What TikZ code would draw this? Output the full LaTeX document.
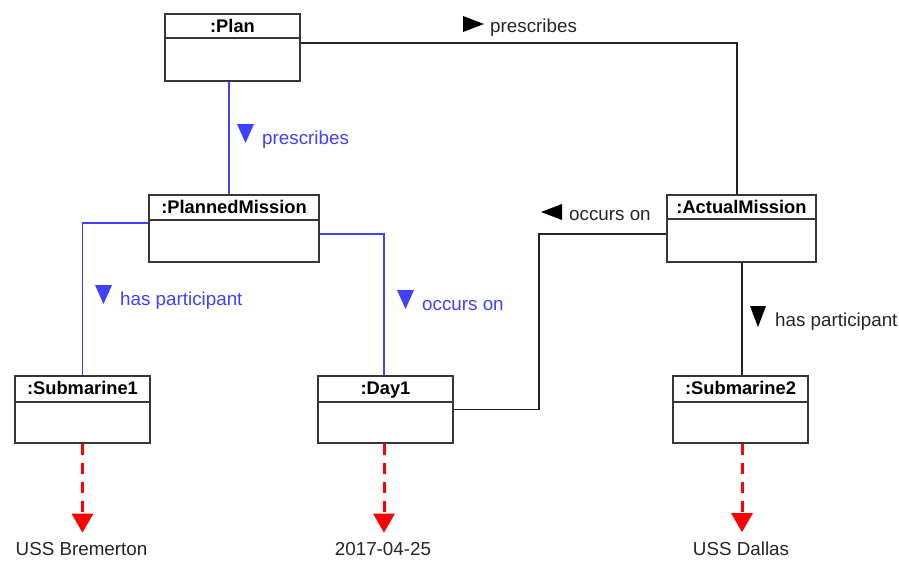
\documentclass[tikz,border=0pt]{standalone}
\usepackage{fontspec}
\setmainfont{Liberation Sans}
\usetikzlibrary{arrows.meta,calc}
\definecolor{umlblue}{RGB}{64,64,255}
\definecolor{boxgray}{RGB}{55,55,55}
\definecolor{lineblack}{RGB}{35,35,35}
\tikzset{
  objbox/.style={draw=boxgray, line width=2pt, fill=white, anchor=north west, inner sep=0pt},
  objtitle/.style={font=\fontsize{18.3}{20}\selectfont\bfseries, anchor=base, inner sep=0pt},
  lbl/.style={font=\fontsize{18.8}{20}\selectfont, anchor=base west, inner sep=0pt},
  blueline/.style={draw=umlblue, line width=1.5pt},
  blackline/.style={draw=lineblack, line width=1.5pt},
  reddash/.style={draw=red, line width=3pt, dash pattern=on 11pt off 8pt, -{Triangle[width=21pt,length=19pt]}, shorten >=8pt},
  valtext/.style={font=\fontsize{18.8}{20}\selectfont, text=black!85, anchor=base, inner sep=1pt},
}
\newcommand{\umlobject}[7]{%
  \node[objbox, minimum width=#4, minimum height=#5] (#1) at (#2,#3) {};
  \node[objtitle] (#1t) at ($(#1.north)+(0,19.5)$) {#6};
  \draw[boxgray, line width=2pt] ($(#1.north west)+(0,#7)$) -- ($(#1.north east)+(0,#7)$);
}
\begin{document}
\begin{tikzpicture}[x=1pt,y=-1pt]
\useasboundingbox[fill=white] (0,0) rectangle (899,560);

% objects
\umlobject{plan}{164}{13}{135pt}{67pt}{:Plan}{25}
\umlobject{pm}{148}{194}{170pt}{67pt}{:PlannedMission}{26}
\umlobject{am}{666}{194}{149pt}{67pt}{:ActualMission}{25}
\umlobject{sub1}{14}{375}{135pt}{67pt}{:Submarine1}{27}
\umlobject{day1}{317}{375}{135pt}{67pt}{:Day1}{27}
\umlobject{sub2}{672}{375}{135pt}{67pt}{:Submarine2}{27}

% blue links
\draw[blueline] ([xshift=-3.5pt]plan.south) -- ([xshift=-5pt]pm.north);
\draw[blueline] ([yshift=5.5pt]pm.west) -| (sub1.north);
\draw[blueline] ([yshift=-5.5pt]pm.east) -| ([xshift=-1.5pt]day1.north);

% black links
\draw[blackline] ([yshift=4.5pt]plan.east) -| ([xshift=-4.5pt]am.north);
\draw[blackline] ([yshift=-5.5pt]am.west) -| ([xshift=85pt]day1.east) -- (day1.east);
\draw[blackline] ([xshift=1.5pt]sub2.north |- am.south) -- ([xshift=1.5pt]sub2.north);

% blue labels
\fill[umlblue] (237,124) -- (254,124) -- (245.5,143) -- cycle;
\node[lbl, text=umlblue] (l1) at (262,144) {prescribes};
\fill[umlblue] (95,285) -- (112,285) -- (103.5,304) -- cycle;
\node[lbl, text=umlblue] (l2) at (120,305) {has participant};
\fill[umlblue] (397,290) -- (414,290) -- (405.5,309) -- cycle;
\node[lbl, text=umlblue] (l3) at (422,310) {occurs on};

% black labels
\fill[black] (463,16) -- (463,32) -- (484,24) -- cycle;
\node[lbl, text=black!85] (l4) at (490,32) {prescribes};
\fill[black] (562,204) -- (562,220) -- (541,212) -- cycle;
\node[lbl, text=black!85] (l5) at (569,220) {occurs on};
\fill[black] (750,306) -- (766,306) -- (758,327) -- cycle;
\node[lbl, text=black!85] (l6) at (775,326) {has participant};

% values
\node[valtext] (v1) at (81.5,555) {USS Bremerton};
\node[valtext] (v2) at (383,555) {2017-04-25};
\node[valtext] (v3) at (741,555) {USS Dallas};

\coordinate (d1s) at ([xshift=-1.5pt]day1.south);
\coordinate (s2s) at ([xshift=1.5pt]sub2.south);
\draw[reddash] (sub1.south) -- (sub1.south |- v1.north);
\draw[reddash] (d1s) -- (d1s |- v2.north);
\draw[reddash] (s2s) -- (s2s |- v3.north);
\end{tikzpicture}
\end{document}
